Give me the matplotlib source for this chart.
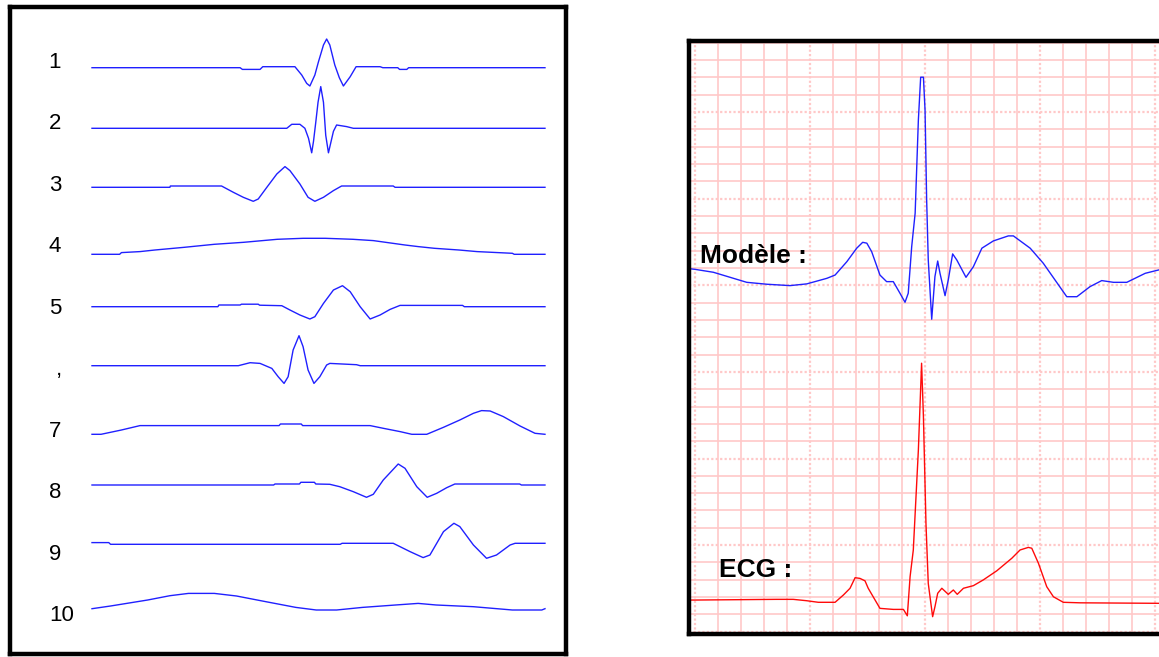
import numpy as np
import matplotlib
matplotlib.use("Agg")
import matplotlib.pyplot as plt

# ---------------- Left panel: 10 basis functions ----------------
row_labels = ["1", "2", "3", "4", "5", ",", "7", "8", "9", "10"]
# vertical level of each curve's baseline (px above frame bottom)
row_levels = [586.3, 525.7, 466.7, 399.7, 347.3, 288.3, 219.7, 169.0, 110.7, 45.3]
label_levels = [594.3, 532.8, 471.3, 409.8, 348.3, 286.8, 225.3, 163.8, 102.3, 40.8]

t1 = [0, 32.7, 33.2, 37.1, 37.7, 39.7, 44.8, 46.3, 47.4, 48.1, 49.2, 50.0, 51.1, 51.8, 52.5, 53.6, 54.6, 55.5, 57.0, 58.3, 63.6, 64.2, 67.5, 67.9, 69.5, 69.9, 100]
a1 = [0, 0, -1.7, -1.7, 1, 1, 1, -7.3, -15.7, -18.3, -7.3, 6, 22.7, 28.7, 22.7, 2.7, -10, -18.3, -9, 1, 1, 0, 0, -1.7, -1.7, 0, 0]
t2 = [0, 43.0, 44.1, 45.9, 47.0, 47.8, 48.5, 48.9, 49.4, 49.9, 50.5, 51.1, 51.6, 52.2, 53.3, 54.0, 56.2, 57.7, 100]
a2 = [0, 0, 4, 4, 0, -10, -24.5, -13, 6, 26, 41.7, 26, -7, -24.5, -3, 3.3, 1.7, 0, 0]
t3 = [0, 17.2, 17.3, 28.6, 31.2, 33.4, 35.6, 36.7, 38.6, 40.8, 42.6, 43.7, 45.9, 47.7, 49.2, 51.1, 53.3, 55.1, 66.5, 66.9, 100]
a3 = [0, 0, 1.3, 1.3, -5, -10, -14, -11.7, 0, 13.3, 20.7, 16.7, 3.3, -10, -14, -10, -3.3, 1.3, 1.3, 0, 0]
t4 = [0, 6.1, 6.5, 10.6, 13.9, 20.4, 27.0, 33.5, 40.9, 46.6, 51.5, 57.6, 62.1, 69.1, 72.0, 75.6, 81.0, 85.0, 92.8, 93.2, 100]
a4 = [0, 0, 1.7, 2.7, 4.3, 7, 10, 12, 15, 16, 16, 15, 13.7, 9.3, 7.7, 6, 4.3, 2.7, 1, 0, 0]
t5 = [0, 27.8, 28.0, 32.7, 33.0, 36.7, 37.0, 41.9, 43.7, 45.9, 48.1, 49.2, 51.1, 53.3, 55.3, 57.0, 59.2, 61.4, 63.6, 65.8, 68.0, 81.8, 82.2, 100]
a5 = [0, 0, 1.7, 1.7, 2.5, 2.5, 1.5, 1, -3.3, -8.3, -12.3, -10, 3.3, 16.7, 21, 15, 0, -12.3, -8.3, -2.7, 1.3, 1.3, 0, 0]
t6 = [0, 32.3, 34.9, 37.1, 39.7, 41.1, 42.4, 43.3, 44.4, 45.7, 46.6, 47.7, 49.0, 50.3, 51.8, 52.5, 58.4, 59.2, 100]
a6 = [0, 0, 3, 2.3, -2.7, -11, -17.7, -11, 15.7, 30, 19, -4.3, -17.7, -11, 0.7, 2.3, 1, 0, 0]
t7 = [0, 2.0, 6.5, 10.6, 41.3, 41.6, 46.2, 46.5, 61.4, 64.3, 68.0, 70.6, 73.9, 77.6, 81.2, 84.2, 86.0, 87.9, 90.8, 94.5, 97.8, 100]
a7 = [0, 0, 4.3, 8.7, 8.7, 10.3, 10.3, 8.7, 8.7, 6, 2.7, 0, 0, 7, 14.3, 21, 23.7, 23.3, 17.7, 8.3, 1, 0]
t8 = [0, 40.1, 40.4, 45.8, 46.1, 49.1, 49.4, 52.5, 54.7, 57.7, 60.6, 62.1, 64.3, 67.6, 69.1, 71.7, 74.0, 76.1, 78.3, 80.1, 94.4, 94.8, 100]
a8 = [0, 0, 1, 1, 2.7, 2.7, 1, 0.7, -1.7, -6.7, -12.3, -9.3, 5, 21, 16.7, -1.7, -12.3, -8.3, -2.7, 1, 1, 0, 0]
t9 = [0, 3.7, 4.1, 54.8, 55.2, 66.5, 70.2, 73.1, 74.6, 77.6, 79.9, 81.2, 84.2, 87.1, 89.3, 92.3, 93.4, 100]
a9 = [0.7, 0.7, -1, -1, 0, 0, -8.3, -14.3, -11.7, 11.7, 20, 16.7, -1.7, -15, -11.7, -1.7, 0, 0]
t10 = [0, 4.1, 12.3, 17.2, 21.3, 27.0, 31.9, 38.4, 45.0, 49.5, 54.0, 59.7, 67.0, 72.0, 76.0, 84.2, 92.8, 99.3, 100]
a10 = [0, 2.7, 8.7, 13, 15.3, 15.3, 12.7, 7, 1.3, -1.3, -1.3, 1.3, 3.7, 5.3, 3.7, 2, -1.3, -1.3, 0]

basis_t = [t1, t2, t3, t4, t5, t6, t7, t8, t9, t10]
basis_a = [a1, a2, a3, a4, a5, a6, a7, a8, a9, a10]

# ---------------- Right panel: model vs ECG (grid units) ----------------
model_x = [-0.2, 0, 0.80, 2.25, 3.12, 4.13, 4.86, 5.73, 6.09, 6.60, 7.03, 7.29, 7.47, 7.68, 8.04, 8.33, 8.62, 8.91, 9.13, 9.27, 9.42,
           9.57, 9.71, 9.81, 9.93, 10.0, 10.07, 10.14, 10.29, 10.43, 10.55, 10.65, 10.87, 11.01, 11.20, 11.38, 11.78, 12.10,
           12.47, 12.97, 13.62, 13.84, 14.57, 15.14, 16.16, 16.60, 17.17, 17.68, 18.19, 18.77, 19.57, 20.14, 20.3]
model_y = [20.95, 20.92, 20.75, 20.17, 20.06, 19.98, 20.08, 20.40, 20.59, 21.36, 22.14, 22.48, 22.43, 21.94, 20.59, 20.21, 20.21, 19.54, 19.02, 19.54, 22.23,
           24.16, 29.54, 32.01, 32.01, 30.12, 24.93, 21.46, 18.04, 20.50, 21.40, 20.69, 19.40, 20.31, 21.81, 21.46, 20.46, 21.07,
           22.14, 22.56, 22.85, 22.85, 22.14, 21.27, 19.34, 19.34, 19.92, 20.27, 20.17, 20.17, 20.69, 20.88, 20.92]
ecg_x = [-0.2, 0, 3.55, 4.27, 4.86, 5.36, 6.09, 6.45, 6.74, 6.96, 7.17, 7.39, 7.53, 8.04, 8.62, 9.06, 9.23, 9.35, 9.49, 9.71, 9.85,
         9.93, 10.04, 10.14, 10.33, 10.43, 10.55, 10.73, 11.01, 11.23, 11.40, 11.67, 12.10, 12.53, 13.12, 13.77, 14.13, 14.49,
         14.64, 14.93, 15.29, 15.58, 16.01, 16.74, 20.3]
ecg_y = [1.83, 1.83, 1.87, 1.87, 1.79, 1.70, 1.70, 2.12, 2.51, 3.12, 3.08, 2.94, 2.51, 1.35, 1.29, 1.29, 0.92, 3.18, 4.72, 10.49, 15.50,
         12.41, 6.26, 2.79, 0.87, 1.44, 2.22, 2.51, 2.16, 2.41, 2.16, 2.51, 2.66, 2.99, 3.52, 4.24, 4.72, 4.87,
         4.82, 3.95, 2.60, 2.02, 1.70, 1.67, 1.64]

grid_cols = np.arange(0, 21)
grid_rows = np.arange(0, 35)
major_every = 5

W, H = 1159, 657
fig = plt.figure(figsize=(W / 100, H / 100), dpi=100)
fig.patch.set_facecolor("white")

BLUE = "#2020ff"
RED = "#ff0a0a"
PINK = "#ffc8c8"

# ---- left axes ----
axL = fig.add_axes([10 / W, (657 - 654) / H, 556 / W, 647 / H])
axL.set_xlim(-18.10, 104.64)
axL.set_ylim(0, 647)
axL.set_xticks([])
axL.set_yticks([])
for sp in axL.spines.values():
    sp.set_linewidth(3.2)
    sp.set_color("black")

for lvl, tt, aa in zip(row_levels, basis_t, basis_a):
    axL.plot(tt, lvl + np.asarray(aa), color=BLUE, lw=1.0, solid_joinstyle="round")

for lab, lvl in zip(row_labels, label_levels):
    if lab == ",":
        axL.text(-7.3, lvl - 8, lab, ha="center", va="baseline", fontsize=16,
                 family="Liberation Sans", color="black")
    else:
        xc = -8.2 if len(lab) == 1 else -6.8
        axL.text(xc, lvl - 8, lab, ha="center", va="baseline", fontsize=16,
                 family="Liberation Sans", color="black")

# ---- right axes ----
axR = fig.add_axes([689 / W, (657 - 634) / H, (1162 - 689) / W, (634 - 41) / H])
axR.set_xlim(-0.26, 20.30)
axR.set_ylim(-0.13, 34.1)
axR.set_xticks([])
axR.set_yticks([])
for k in grid_cols:
    if k % major_every == 0:
        axR.axvline(k, color=PINK, lw=1.6, ls=(0, (1, 1)), zorder=1)
    else:
        axR.axvline(k, color=PINK, lw=1.2, zorder=1)
for k in grid_rows:
    if k % major_every == 0:
        axR.axhline(k, color=PINK, lw=1.6, ls=(0, (1, 1)), zorder=1)
    else:
        axR.axhline(k, color=PINK, lw=1.2, zorder=1)

axR.plot(model_x, model_y, color=BLUE, lw=1.0, zorder=3)
axR.plot(ecg_x, ecg_y, color=RED, lw=1.0, zorder=3)

axR.text(0.22, 21.27, "Modèle :", ha="left", va="baseline", fontsize=19,
         fontweight="bold", family="Liberation Sans", color="black", zorder=4)
axR.text(1.05, 3.18, "ECG :", ha="left", va="baseline", fontsize=19,
         fontweight="bold", family="Liberation Sans", color="black", zorder=4)

for name in ["left", "top", "bottom"]:
    axR.spines[name].set_linewidth(3.2)
    axR.spines[name].set_color("black")
    axR.spines[name].set_zorder(5)
axR.spines["right"].set_visible(False)

fig.savefig("out.png", dpi=100, facecolor="white")
